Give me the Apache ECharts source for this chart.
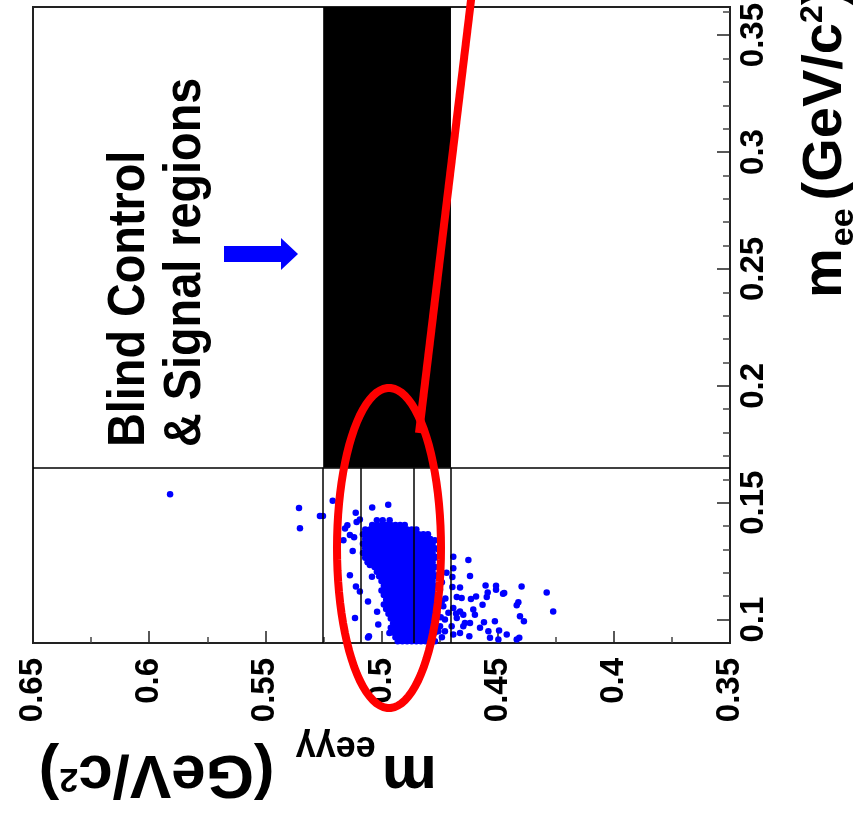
<!DOCTYPE html>
<html><head><meta charset="utf-8">
<script src="https://cdn.jsdelivr.net/npm/echarts@6/dist/echarts.min.js"></script>
<style>html,body{margin:0;padding:0;background:#fff}#c{width:857px;height:813px}</style>
</head><body><div id="c"></div>
<script>
// ---------------- data ----------------
const xMin = 0.35, xMax = 0.65, xInterval = 0.05;   // m_eeγγ axis (drawn reversed)
const yMin = 0.09, yMax = 0.362;                     // m_ee axis
const blindBox = [0.5251, 0.4701, 0.165];            // x1, x2, lower m_ee edge
const regionLinesX = [0.5251, 0.5091, 0.4861, 0.4701];
const regionLineTop = 0.165;

const outlierPoints = [
 [0.5910,0.1536],[0.5355,0.1477],[0.5351,0.1391],[0.5265,0.1443],[0.5252,0.1443],
 [0.5210,0.1508],[0.5111,0.1457],[0.5040,0.1480],[0.4971,0.1491],
 [0.5147,0.1404],[0.5157,0.1390],[0.5136,0.1362],[0.5118,0.1352],[0.5164,0.1340],
 [0.5107,0.1418],[0.5093,0.1428],
 [0.5124,0.1294],[0.5136,0.1190],[0.5110,0.1142],[0.5093,0.1120],[0.5114,0.1007],
 [0.5054,0.0929],[0.5014,0.0979],[0.4966,0.0943],[0.5058,0.1077],[0.5041,0.1183],
 [0.5019,0.1034],[0.5058,0.0923],[0.5041,0.1306],[0.5050,0.1234]
];
const tailPoints = [
 [0.4691,0.1269],[0.4626,0.1255],[0.4691,0.1220],[0.4619,0.1187],[0.4695,0.1182],
 [0.4695,0.1139],[0.4662,0.1137],[0.4552,0.1146],[0.4507,0.1145],[0.4507,0.1128],
 [0.4397,0.1142],[0.4289,0.1116],[0.4261,0.1035],[0.4472,0.1114],[0.4543,0.1116],
 [0.4547,0.1097],[0.4593,0.1099],[0.4615,0.1088],[0.4655,0.1092],[0.4676,0.1097],
 [0.4411,0.1074],[0.4418,0.1061],[0.4565,0.1064],[0.4605,0.1043],[0.4598,0.1021],
 [0.4404,0.1014],[0.4387,0.0993],[0.4512,0.0993],[0.4559,0.0989],[0.4648,0.1021],
 [0.4679,0.1026],[0.4712,0.1029],[0.4641,0.0986],[0.4619,0.0986],[0.4576,0.0965],
 [0.4540,0.0950],[0.4494,0.0953],[0.4461,0.0936],[0.4407,0.0922],[0.4418,0.0915],
 [0.4533,0.0922],[0.4497,0.0915],[0.4622,0.0929],[0.4662,0.0943],[0.4691,0.0936],
 [0.4727,0.0950],[0.4727,0.1000],[0.4748,0.0972],[0.4734,0.1057],[0.4748,0.1128],
 [0.4770,0.1269],[0.4770,0.1340],[0.4691,0.1050],[0.4662,0.1035],[0.4676,0.1007],
 [0.4698,0.0972],[0.4648,0.0972],[0.4477,0.1111],
 [0.4755,0.1300],[0.4745,0.1240],[0.4760,0.1190],[0.4740,0.1160],[0.4755,0.1100],
 [0.4740,0.1080],[0.4760,0.1030],[0.4745,0.1010],[0.4755,0.0950],[0.4740,0.0925],
 [0.4725,0.1090],[0.4720,0.1200]
];
// saturated core of the distribution, read row by row
const coreRowY = [0.1425,0.1405,0.1385,0.1365,0.1345,0.1325,0.1305,0.1285,0.1265,0.1245,0.1225,0.1205,0.1185,
 0.1165,0.1145,0.1125,0.1105,0.1085,0.1065,0.1045,0.1025,0.1005,0.0985,0.0965,0.0945,0.0925,0.0908];
const coreRowX = [
 [0.4965,0.4995,0.5020],
 [0.490,0.492,0.494,0.496,0.498,0.500,0.502,0.504],
 [0.485,0.487,0.489,0.491,0.493,0.495,0.497,0.499,0.501,0.503,0.505,0.507],
 [0.480,0.482,0.484,0.486,0.488,0.490,0.492,0.494,0.496,0.498,0.500,0.502,0.504,0.506,0.508],
 [0.479,0.481,0.483,0.485,0.487,0.489,0.491,0.493,0.495,0.497,0.499,0.501,0.503,0.505,0.507],
 [0.478,0.480,0.482,0.484,0.486,0.488,0.490,0.492,0.494,0.496,0.498,0.500,0.502,0.504,0.506,0.508],
 [0.477,0.479,0.481,0.483,0.485,0.487,0.489,0.491,0.493,0.495,0.497,0.499,0.501,0.503,0.505,0.507],
 [0.478,0.480,0.482,0.484,0.486,0.488,0.490,0.492,0.494,0.496,0.498,0.500,0.502,0.504,0.506,0.508],
 [0.477,0.479,0.481,0.483,0.485,0.487,0.489,0.491,0.493,0.495,0.497,0.499,0.501,0.503,0.505,0.507],
 [0.478,0.480,0.482,0.484,0.486,0.488,0.490,0.492,0.494,0.496,0.498,0.500,0.502,0.504,0.506],
 [0.477,0.479,0.481,0.483,0.485,0.487,0.489,0.491,0.493,0.495,0.497,0.499,0.501,0.503],
 [0.478,0.480,0.482,0.484,0.486,0.488,0.490,0.492,0.494,0.496,0.498,0.500,0.502],
 [0.477,0.479,0.481,0.483,0.485,0.487,0.489,0.491,0.493,0.495,0.497,0.499,0.501],
 [0.478,0.480,0.482,0.484,0.486,0.488,0.490,0.492,0.494,0.496,0.498,0.500],
 [0.477,0.479,0.481,0.483,0.485,0.487,0.489,0.491,0.493,0.495,0.497,0.499],
 [0.478,0.480,0.482,0.484,0.486,0.488,0.490,0.492,0.494,0.496,0.498,0.500],
 [0.477,0.479,0.481,0.483,0.485,0.487,0.489,0.491,0.493,0.495,0.497,0.499],
 [0.478,0.480,0.482,0.484,0.486,0.488,0.490,0.492,0.494,0.496,0.498],
 [0.477,0.479,0.481,0.483,0.485,0.487,0.489,0.491,0.493,0.495,0.497,0.499],
 [0.478,0.480,0.482,0.484,0.486,0.488,0.490,0.492,0.494,0.496,0.498],
 [0.477,0.479,0.481,0.483,0.485,0.487,0.489,0.491,0.493,0.495,0.497],
 [0.478,0.480,0.482,0.484,0.486,0.488,0.490,0.492,0.494,0.496],
 [0.477,0.479,0.481,0.483,0.485,0.487,0.489,0.491,0.493,0.495],
 [0.478,0.480,0.482,0.484,0.486,0.488,0.490,0.492,0.494,0.496],
 [0.477,0.479,0.481,0.483,0.485,0.487,0.489,0.491,0.493,0.495],
 [0.478,0.480,0.482,0.484,0.486,0.488,0.490,0.492,0.494],
 [0.477,0.479,0.481,0.483,0.485,0.487,0.489,0.491,0.493]
];
const annotationLines = ['Blind Control', '& Signal regions'];

// ---------------- build ----------------
const FONT = '"Liberation Sans", Arial, Helvetica, sans-serif';
const corePoints = [];
coreRowY.forEach((y, i) => coreRowX[i].forEach(x => corePoints.push([x, y])));

const chart = echarts.init(document.getElementById('c'), null, {renderer: 'canvas'});
const isMajor = v => Math.abs(v * 20 - Math.round(v * 20)) < 1e-6;
const labelStyle = {fontSize: 33, fontWeight: 'bold', color: '#000', fontFamily: FONT};
const blue = '#0000ff';

const vLines = regionLinesX.map(x => [{coord: [x, yMin]}, {coord: [x, regionLineTop]}]);
const hLine = [{coord: [xMax, regionLineTop]}, {coord: [xMin, regionLineTop]}];

chart.setOption({
  animation: false,
  backgroundColor: '#fff',
  grid: {left: 33, right: 127, top: 5, bottom: 170, show: true, borderColor: '#222', borderWidth: 2, backgroundColor: 'transparent'},
  xAxis: {
    type: 'value', min: xMin, max: xMax, interval: xInterval, inverse: true,
    axisLine: {show: true, onZero: false, lineStyle: {color: '#222', width: 2}},
    axisTick: {show: true, inside: true, length: 12, lineStyle: {color: '#222', width: 1.5}},
    minorTick: {show: true, splitNumber: 2, length: 6, lineStyle: {color: '#444', width: 1.5}},
    splitLine: {show: false},
    axisLabel: Object.assign({rotate: 90, margin: 15, showMinLabel: true, showMaxLabel: true}, labelStyle)
  },
  yAxis: {
    type: 'value', position: 'right', min: yMin, max: yMax, splitNumber: 5,
    axisLine: {show: true, onZero: false, lineStyle: {color: '#222', width: 2}},
    axisTick: {show: true, inside: true, length: 13, lineStyle: {color: '#222', width: 1.5}},
    minorTick: {show: true, splitNumber: 5, length: 7, lineStyle: {color: '#444', width: 1.5}},
    splitLine: {show: false},
    axisLabel: Object.assign({rotate: 90, margin: 7,
      formatter: v => isMajor(v) ? String(+(+v).toFixed(2)) : ''}, labelStyle)
  },
  series: [
    {
      type: 'scatter', name: 'box', data: [], z: 1, silent: true,
      markArea: {silent: true, itemStyle: {color: '#000', opacity: 1, borderWidth: 0},
        data: [[{coord: [blindBox[0], blindBox[2]]}, {coord: [blindBox[1], yMax]}]]}
    },
    {
      type: 'scatter', name: 'core', data: corePoints, symbol: 'circle', symbolSize: 6.5,
      itemStyle: {color: blue, opacity: 1}, z: 2, silent: true, clip: true
    },
    {
      type: 'scatter', name: 'scatter', data: tailPoints.concat(outlierPoints), symbol: 'circle', symbolSize: 6.5,
      itemStyle: {color: blue, opacity: 1}, z: 2, silent: true, clip: true
    },
    {
      type: 'scatter', name: 'lines', data: [], z: 3, silent: true,
      markLine: {silent: true, symbol: ['none', 'none'], label: {show: false},
        lineStyle: {color: '#000', width: 1.5, type: 'solid'},
        emphasis: {disabled: true},
        data: [hLine].concat(vLines)}
    }
  ]
});

// ---------------- annotations (text, arrow, red marks) ----------------
const mctx = document.createElement('canvas').getContext('2d');
function tw(text, size) { mctx.font = 'bold ' + size + 'px ' + FONT; return mctx.measureText(text).width; }
function titleGroup(segs, x, y, rot) {
  let cx = 0; const children = [];
  segs.forEach(s => {
    children.push({type: 'text', x: cx, y: s.shift - 0.32 * s.size,
      style: {text: s.text, font: 'bold ' + s.size + 'px ' + FONT, fill: '#000',
        align: 'left', verticalAlign: 'middle', textAlign: 'left', textVerticalAlign: 'middle'}});
    cx += tw(s.text, s.size) + (s.gap || 0);
  });
  return {type: 'group', x: x, y: y, rotation: rot, children: children, z: 100};
}
const ell = [];
const ec = [389, 548], erx = 52, ery = 160;
for (let i = 0; i < 90; i++) { const a = i / 90 * 2 * Math.PI; ell.push([ec[0] + erx * Math.cos(a), ec[1] + ery * Math.sin(a)]); }

chart.setOption({graphic: [
  {type: 'text', x: 130, y: 447, rotation: Math.PI / 2, scaleX: 0.9, z: 50,
   style: {text: annotationLines[0], font: 'bold 52px ' + FONT, fill: '#000', align: 'left', verticalAlign: 'middle', textAlign: 'left', textVerticalAlign: 'middle'}},
  {type: 'text', x: 186, y: 447, rotation: Math.PI / 2, scaleX: 0.9, z: 50,
   style: {text: annotationLines[1], font: 'bold 52px ' + FONT, fill: '#000', align: 'left', verticalAlign: 'middle', textAlign: 'left', textVerticalAlign: 'middle'}},
  {type: 'polygon', z: 50, shape: {points: [[224,246],[281,246],[281,238],[298,254],[281,270],[281,262],[224,262]]},
   style: {fill: blue, stroke: 'none'}},
  {type: 'polygon', z: 60, shape: {points: ell}, style: {fill: 'none', stroke: '#ff0000', lineWidth: 8}},
  {type: 'line', z: 60, shape: {x1: 419, y1: 433, x2: 472, y2: -8}, style: {stroke: '#ff0000', lineWidth: 8}},
  titleGroup([
    {text: 'm', size: 62, shift: 0, gap: 6},
    {text: 'eeγγ', size: 36, shift: 18, gap: 4},
    {text: ' (GeV/c', size: 62, shift: 0},
    {text: '2', size: 34, shift: -14},
    {text: ')', size: 62, shift: 0}
  ], 437, 753, Math.PI),
  titleGroup([
    {text: 'm', size: 56, shift: 0, gap: 2},
    {text: 'ee', size: 34, shift: 12, gap: 8},
    {text: '(GeV/c', size: 56, shift: 0},
    {text: '2', size: 32, shift: -20},
    {text: ')', size: 56, shift: 0}
  ], 843, 298, Math.PI / 2)
]});
</script>
</body></html>
